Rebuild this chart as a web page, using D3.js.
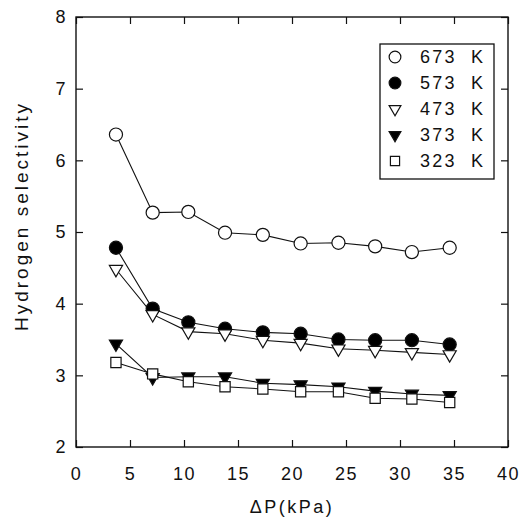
<!DOCTYPE html>
<html>
<head>
<meta charset="utf-8">
<script src="https://cdn.jsdelivr.net/npm/d3@7"></script>
<style>
  html, body { margin: 0; padding: 0; background: #fff; }
  text { font-family: "Liberation Sans", Arial, sans-serif; fill: #111; }
</style>
</head>
<body>
<div id="chart"></div>
<script>
// values
const pressure = [3.7, 7.1, 10.4, 13.8, 17.3, 20.8, 24.3, 27.7, 31.1, 34.6];
const sel673 = [6.36, 5.27, 5.28, 4.99, 4.96, 4.84, 4.85, 4.80, 4.72, 4.78];
const sel573 = [4.78, 3.93, 3.74, 3.65, 3.60, 3.58, 3.50, 3.49, 3.49, 3.43];
const sel473 = [4.48, 3.85, 3.61, 3.58, 3.49, 3.45, 3.37, 3.35, 3.32, 3.29];
const sel373 = [3.44, 2.97, 2.98, 2.98, 2.89, 2.87, 2.84, 2.78, 2.74, 2.72];
const sel323 = [3.18, 3.02, 2.91, 2.84, 2.81, 2.77, 2.77, 2.68, 2.67, 2.62];
const seriesNames = ["673 K", "573 K", "473 K", "373 K", "323 K"];
const xTicks = [0, 5, 10, 15, 20, 25, 30, 35, 40];
const yTicks = [2, 3, 4, 5, 6, 7, 8];

const width = 529;
const height = 518;
const margin = { top: 17, right: 21, bottom: 71, left: 76 };

const series = [
  { name: seriesNames[0], values: sel673, shape: d3.symbolCircle, size: 135, fill: "#fff", rot: 0 },
  { name: seriesNames[1], values: sel573, shape: d3.symbolCircle, size: 135, fill: "#000", rot: 0 },
  { name: seriesNames[2], values: sel473, shape: d3.symbolTriangle, size: 75, fill: "#fff", rot: 180 },
  { name: seriesNames[3], values: sel373, shape: d3.symbolTriangle, size: 75, fill: "#000", rot: 180 },
  { name: seriesNames[4], values: sel323, shape: d3.symbolSquare, size: 105, fill: "#fff", rot: 0 }
];

const svg = d3.select("#chart").append("svg")
  .attr("width", width)
  .attr("height", height);

const x = d3.scaleLinear().domain([0, 40]).range([margin.left, width - margin.right]);
const y = d3.scaleLinear().domain([2, 8]).range([height - margin.bottom, margin.top]);

// frame
svg.append("rect")
  .attr("x", x(0)).attr("y", y(8))
  .attr("width", x(40) - x(0)).attr("height", y(2) - y(8))
  .attr("fill", "none").attr("stroke", "#111").attr("stroke-width", 1.4);

// inward ticks on all four sides
const tickLen = 7;
const bottomAxis = svg.append("g")
  .attr("transform", `translate(0,${y(2)})`)
  .call(d3.axisBottom(x).tickValues(xTicks).tickSize(-tickLen).tickPadding(20).tickFormat(d3.format("d")));
const topAxis = svg.append("g")
  .attr("transform", `translate(0,${y(8)})`)
  .call(d3.axisTop(x).tickValues(xTicks).tickSize(-tickLen).tickFormat(""));
const leftAxis = svg.append("g")
  .attr("transform", `translate(${x(0)},0)`)
  .call(d3.axisLeft(y).tickValues(yTicks).tickSize(-tickLen).tickPadding(9).tickFormat(d3.format("d")));
const rightAxis = svg.append("g")
  .attr("transform", `translate(${x(40)},0)`)
  .call(d3.axisRight(y).tickValues(yTicks).tickSize(-tickLen).tickFormat(""));

[bottomAxis, topAxis, leftAxis, rightAxis].forEach(a => {
  a.select(".domain").remove();
  a.selectAll(".tick line").attr("stroke", "#111").attr("stroke-width", 1.2);
  a.selectAll(".tick text")
    .style("font-family", "'Liberation Sans', Arial, sans-serif")
    .style("font-size", "18px")
    .style("letter-spacing", "1.5px")
    .attr("fill", "#111");
});

// lines
const line = d3.line()
  .x((d, i) => x(pressure[i]))
  .y(d => y(d));

series.forEach(s => {
  svg.append("path")
    .datum(s.values)
    .attr("d", line)
    .attr("fill", "none")
    .attr("stroke", "#111")
    .attr("stroke-width", 1.1);
});

// markers
series.forEach(s => {
  svg.append("g").selectAll("path")
    .data(s.values)
    .enter()
    .append("path")
    .attr("d", d3.symbol().type(s.shape).size(s.size))
    .attr("transform", (d, i) => `translate(${x(pressure[i])},${y(d)}) rotate(${s.rot})`)
    .attr("fill", s.fill)
    .attr("stroke", "#111")
    .attr("stroke-width", 1.2);
});

// legend
const legend = svg.append("g");
legend.append("rect")
  .attr("x", 380).attr("y", 44)
  .attr("width", 114).attr("height", 135)
  .attr("fill", "#fff").attr("stroke", "#111").attr("stroke-width", 1.3);

series.forEach((s, i) => {
  const cy = 57 + i * 26;
  legend.append("path")
    .attr("d", d3.symbol().type(s.shape).size(s.size * 0.8))
    .attr("transform", `translate(395,${cy}) rotate(${s.rot})`)
    .attr("fill", s.fill)
    .attr("stroke", "#111")
    .attr("stroke-width", 1.2);
  legend.append("text")
    .attr("x", 420).attr("y", cy)
    .attr("dy", "0.36em")
    .style("font-size", "18px")
    .style("letter-spacing", "2.2px")
    .style("white-space", "pre")
    .text(s.name.replace(" ", "  "));
});

// axis titles
svg.append("text")
  .attr("x", (x(0) + x(40)) / 2)
  .attr("y", 513)
  .attr("text-anchor", "middle")
  .style("font-size", "18px")
  .style("letter-spacing", "2.5px")
  .text("ΔP(kPa)");

svg.append("text")
  .attr("transform", `translate(28,${(y(2) + y(8)) / 2 - 16}) rotate(-90)`)
  .attr("text-anchor", "middle")
  .style("font-size", "19px")
  .style("letter-spacing", "3px")
  .text("Hydrogen selectivity");
</script>
</body>
</html>
